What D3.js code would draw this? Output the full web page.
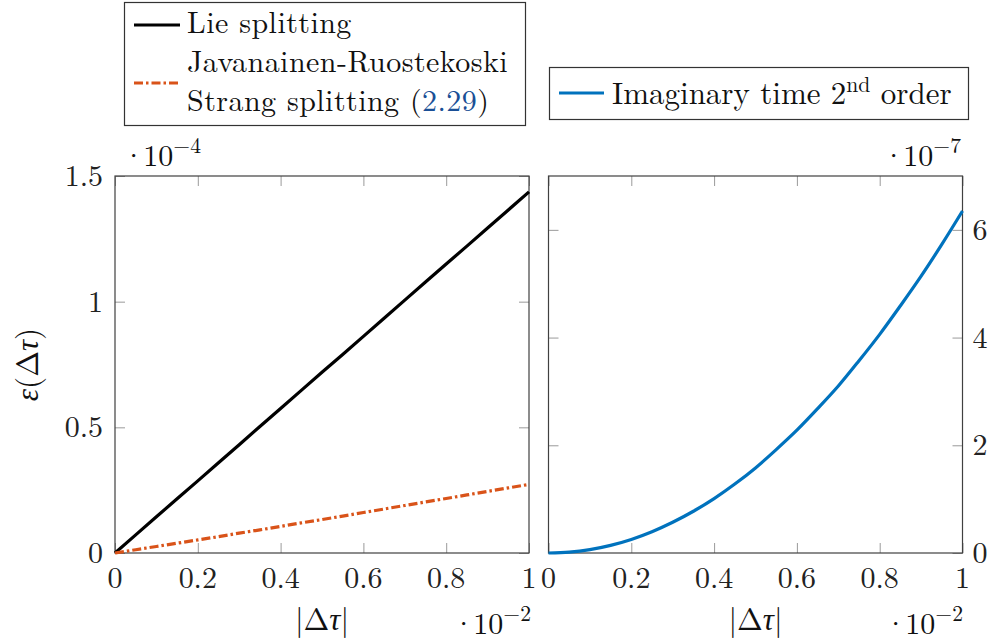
<!DOCTYPE html>
<html><head><meta charset="utf-8">
<script src="https://cdn.jsdelivr.net/npm/d3@7"></script>
<style>
html,body{margin:0;padding:0;background:#fff;}
svg{display:block;font-family:"Latin Modern Roman","Liberation Serif","DejaVu Serif",serif;}
</style></head>
<body><svg id="c" width="992" height="644"></svg>
<script>
// Data
const dtau = [0,0.05,0.1,0.15,0.2,0.25,0.3,0.35,0.4,0.45,0.5,0.55,0.6,0.65,0.7,0.75,0.8,0.85,0.9,0.95,1];
// left panel (units 1e-4)
const lieErr = [0,0.072,0.144,0.216,0.287,0.359,0.431,0.503,0.575,0.647,0.719,0.790,0.862,0.934,1.006,1.078,1.150,1.221,1.293,1.365,1.437];
const jrErr  = [0,0.013,0.026,0.039,0.052,0.065,0.079,0.092,0.106,0.120,0.133,0.147,0.161,0.175,0.189,0.203,0.217,0.231,0.245,0.259,0.273];
// right panel (units 1e-7)
const imagErr = [0,0.016,0.063,0.142,0.252,0.395,0.57,0.775,1.01,1.28,1.58,1.92,2.28,2.68,3.1,3.57,4.06,4.59,5.14,5.73,6.35];
const xTicks = [0,0.2,0.4,0.6,0.8,1];
const xTickLabels = ["0","0.2","0.4","0.6","0.8","1"];
const yTicksL = [0,0.5,1,1.5];
const yTickLabelsL = ["0","0.5","1","1.5"];
const yTicksR = [0,2,4,6];
const yTickLabelsR = ["0","2","4","6"];

const svg = d3.select("#c");
const FS = 30, FL = 31, FLeg = 30;
const frame = "#404040", tickC = "#9a9a9a";
const yTop = 176, yBot = 553;

const xL = d3.scaleLinear().domain([0,1]).range([115,529]);
const yL = d3.scaleLinear().domain([0,1.5]).range([yBot,yTop]);
const xR = d3.scaleLinear().domain([0,1]).range([548.5,962.5]);
const yR = d3.scaleLinear().domain([0,7]).range([yBot,yTop]);

function panel(x, y, yTicks, yLabels, yLabelSide){
  const g = svg.append("g");
  const [x0,x1] = x.range(), [y0,y1] = y.range();
  const tl = 10;
  const style = a=>{a.select(".domain").remove();a.selectAll("line").attr("stroke",tickC);};
  g.append("g").attr("transform",`translate(0,${y0})`)
    .call(d3.axisTop(x).tickValues(xTicks).tickSize(tl).tickFormat("")).call(style);
  g.append("g").attr("transform",`translate(0,${y1})`)
    .call(d3.axisBottom(x).tickValues(xTicks).tickSize(tl).tickFormat("")).call(style);
  g.append("g").attr("transform",`translate(${x0},0)`)
    .call(d3.axisRight(y).tickValues(yTicks).tickSize(tl).tickFormat("")).call(style);
  g.append("g").attr("transform",`translate(${x1},0)`)
    .call(d3.axisLeft(y).tickValues(yTicks).tickSize(tl).tickFormat("")).call(style);
  g.append("rect").attr("x",x0).attr("y",y1).attr("width",x1-x0).attr("height",y0-y1)
    .attr("fill","none").attr("stroke",frame).attr("stroke-width",1.2);
  g.selectAll(".xl").data(xTicks).enter().append("text")
    .attr("x",d=>x(d)).attr("y",588).attr("text-anchor","middle")
    .attr("font-size",FS).attr("fill","#222").text((d,i)=>xTickLabels[i]);
  g.selectAll(".yl").data(yTicks).enter().append("text")
    .attr("x",yLabelSide==="left"? x0-12 : x1+10)
    .attr("y",d=>y(d)+10)
    .attr("text-anchor",yLabelSide==="left"?"end":"start")
    .attr("font-size",FS).attr("fill","#222").text((d,i)=>yLabels[i]);
  return g;
}
const gL = panel(xL,yL,yTicksL,yTickLabelsL,"left");
const gR = panel(xR,yR,yTicksR,yTickLabelsR,"right");

const lineL = d3.line().x((d,i)=>xL(dtau[i])).y(d=>yL(d));
const lineR = d3.line().x((d,i)=>xR(dtau[i])).y(d=>yR(d)).curve(d3.curveMonotoneX);

gL.append("path").datum(lieErr).attr("d",lineL).attr("fill","none").attr("stroke","#000").attr("stroke-width",3.2);
gL.append("path").datum(jrErr).attr("d",lineL).attr("fill","none").attr("stroke","#d95319").attr("stroke-width",3.2)
  .attr("stroke-dasharray","9 3 2.5 3");
gR.append("path").datum(imagErr).attr("d",lineR).attr("fill","none").attr("stroke","#0072bd").attr("stroke-width",3.2);

function xlabel(cx){
  const t = svg.append("text").attr("x",cx).attr("y",630).attr("text-anchor","middle").attr("font-size",FL).attr("fill","#111");
  t.append("tspan").text("|Δ");
  t.append("tspan").attr("font-style","italic").text("τ");
  t.append("tspan").text("|");
}
xlabel(322); xlabel(755.5);

function mult(x, y, exp){
  const t = svg.append("text").attr("x",x).attr("y",y).attr("font-size",FS).attr("fill","#111");
  t.append("tspan").text("·");
  t.append("tspan").attr("dx",-2).text("10");
  t.append("tspan").attr("dy",-13).attr("font-size",FS*0.72).text(exp);
}
mult(452,634,"−2");
mult(884,634,"−2");
mult(122,166,"−4");
mult(882,166,"−7");

const yl = svg.append("text").attr("transform","translate(38,364.5) rotate(-90)").attr("text-anchor","middle")
  .attr("font-size",FL).attr("fill","#111");
yl.append("tspan").attr("font-style","italic").text("ε");
yl.append("tspan").text("(Δ");
yl.append("tspan").attr("font-style","italic").text("τ");
yl.append("tspan").text(")");

// Legend 1
svg.append("rect").attr("x",124.5).attr("y",2.5).attr("width",401).attr("height",123).attr("fill","#fff").attr("stroke","#333").attr("stroke-width",1.2);
svg.append("line").attr("x1",134).attr("x2",180).attr("y1",25).attr("y2",25).attr("stroke","#000").attr("stroke-width",3.2);
svg.append("line").attr("x1",134).attr("x2",180).attr("y1",83).attr("y2",83).attr("stroke","#d95319").attr("stroke-width",3.2).attr("stroke-dasharray","9 3 2.5 3");
svg.append("text").attr("x",187).attr("y",33).attr("font-size",FLeg).attr("letter-spacing",0.45).attr("fill","#111").text("Lie splitting");
svg.append("text").attr("x",187).attr("y",72).attr("font-size",FLeg).attr("letter-spacing",0.45).attr("fill","#111").text("Javanainen-Ruostekoski");
const s3 = svg.append("text").attr("x",187).attr("y",111).attr("font-size",FLeg).attr("letter-spacing",0.45).attr("fill","#111");
s3.append("tspan").text("Strang splitting (");
s3.append("tspan").attr("fill","#1a4f96").text("2.29");
s3.append("tspan").text(")");

// Legend 2
svg.append("rect").attr("x",549.5).attr("y",67.5).attr("width",419).attr("height",52).attr("fill","#fff").attr("stroke","#333").attr("stroke-width",1.2);
svg.append("line").attr("x1",559).attr("x2",604).attr("y1",93).attr("y2",93).attr("stroke","#0072bd").attr("stroke-width",3.2);
const l2 = svg.append("text").attr("x",612).attr("y",104).attr("font-size",FL).attr("fill","#111");
l2.append("tspan").text("Imaginary time 2");
l2.append("tspan").attr("dy",-12).attr("font-size",FL*0.7).text("nd");
l2.append("tspan").attr("dy",12).text(" order");
</script></body></html>
